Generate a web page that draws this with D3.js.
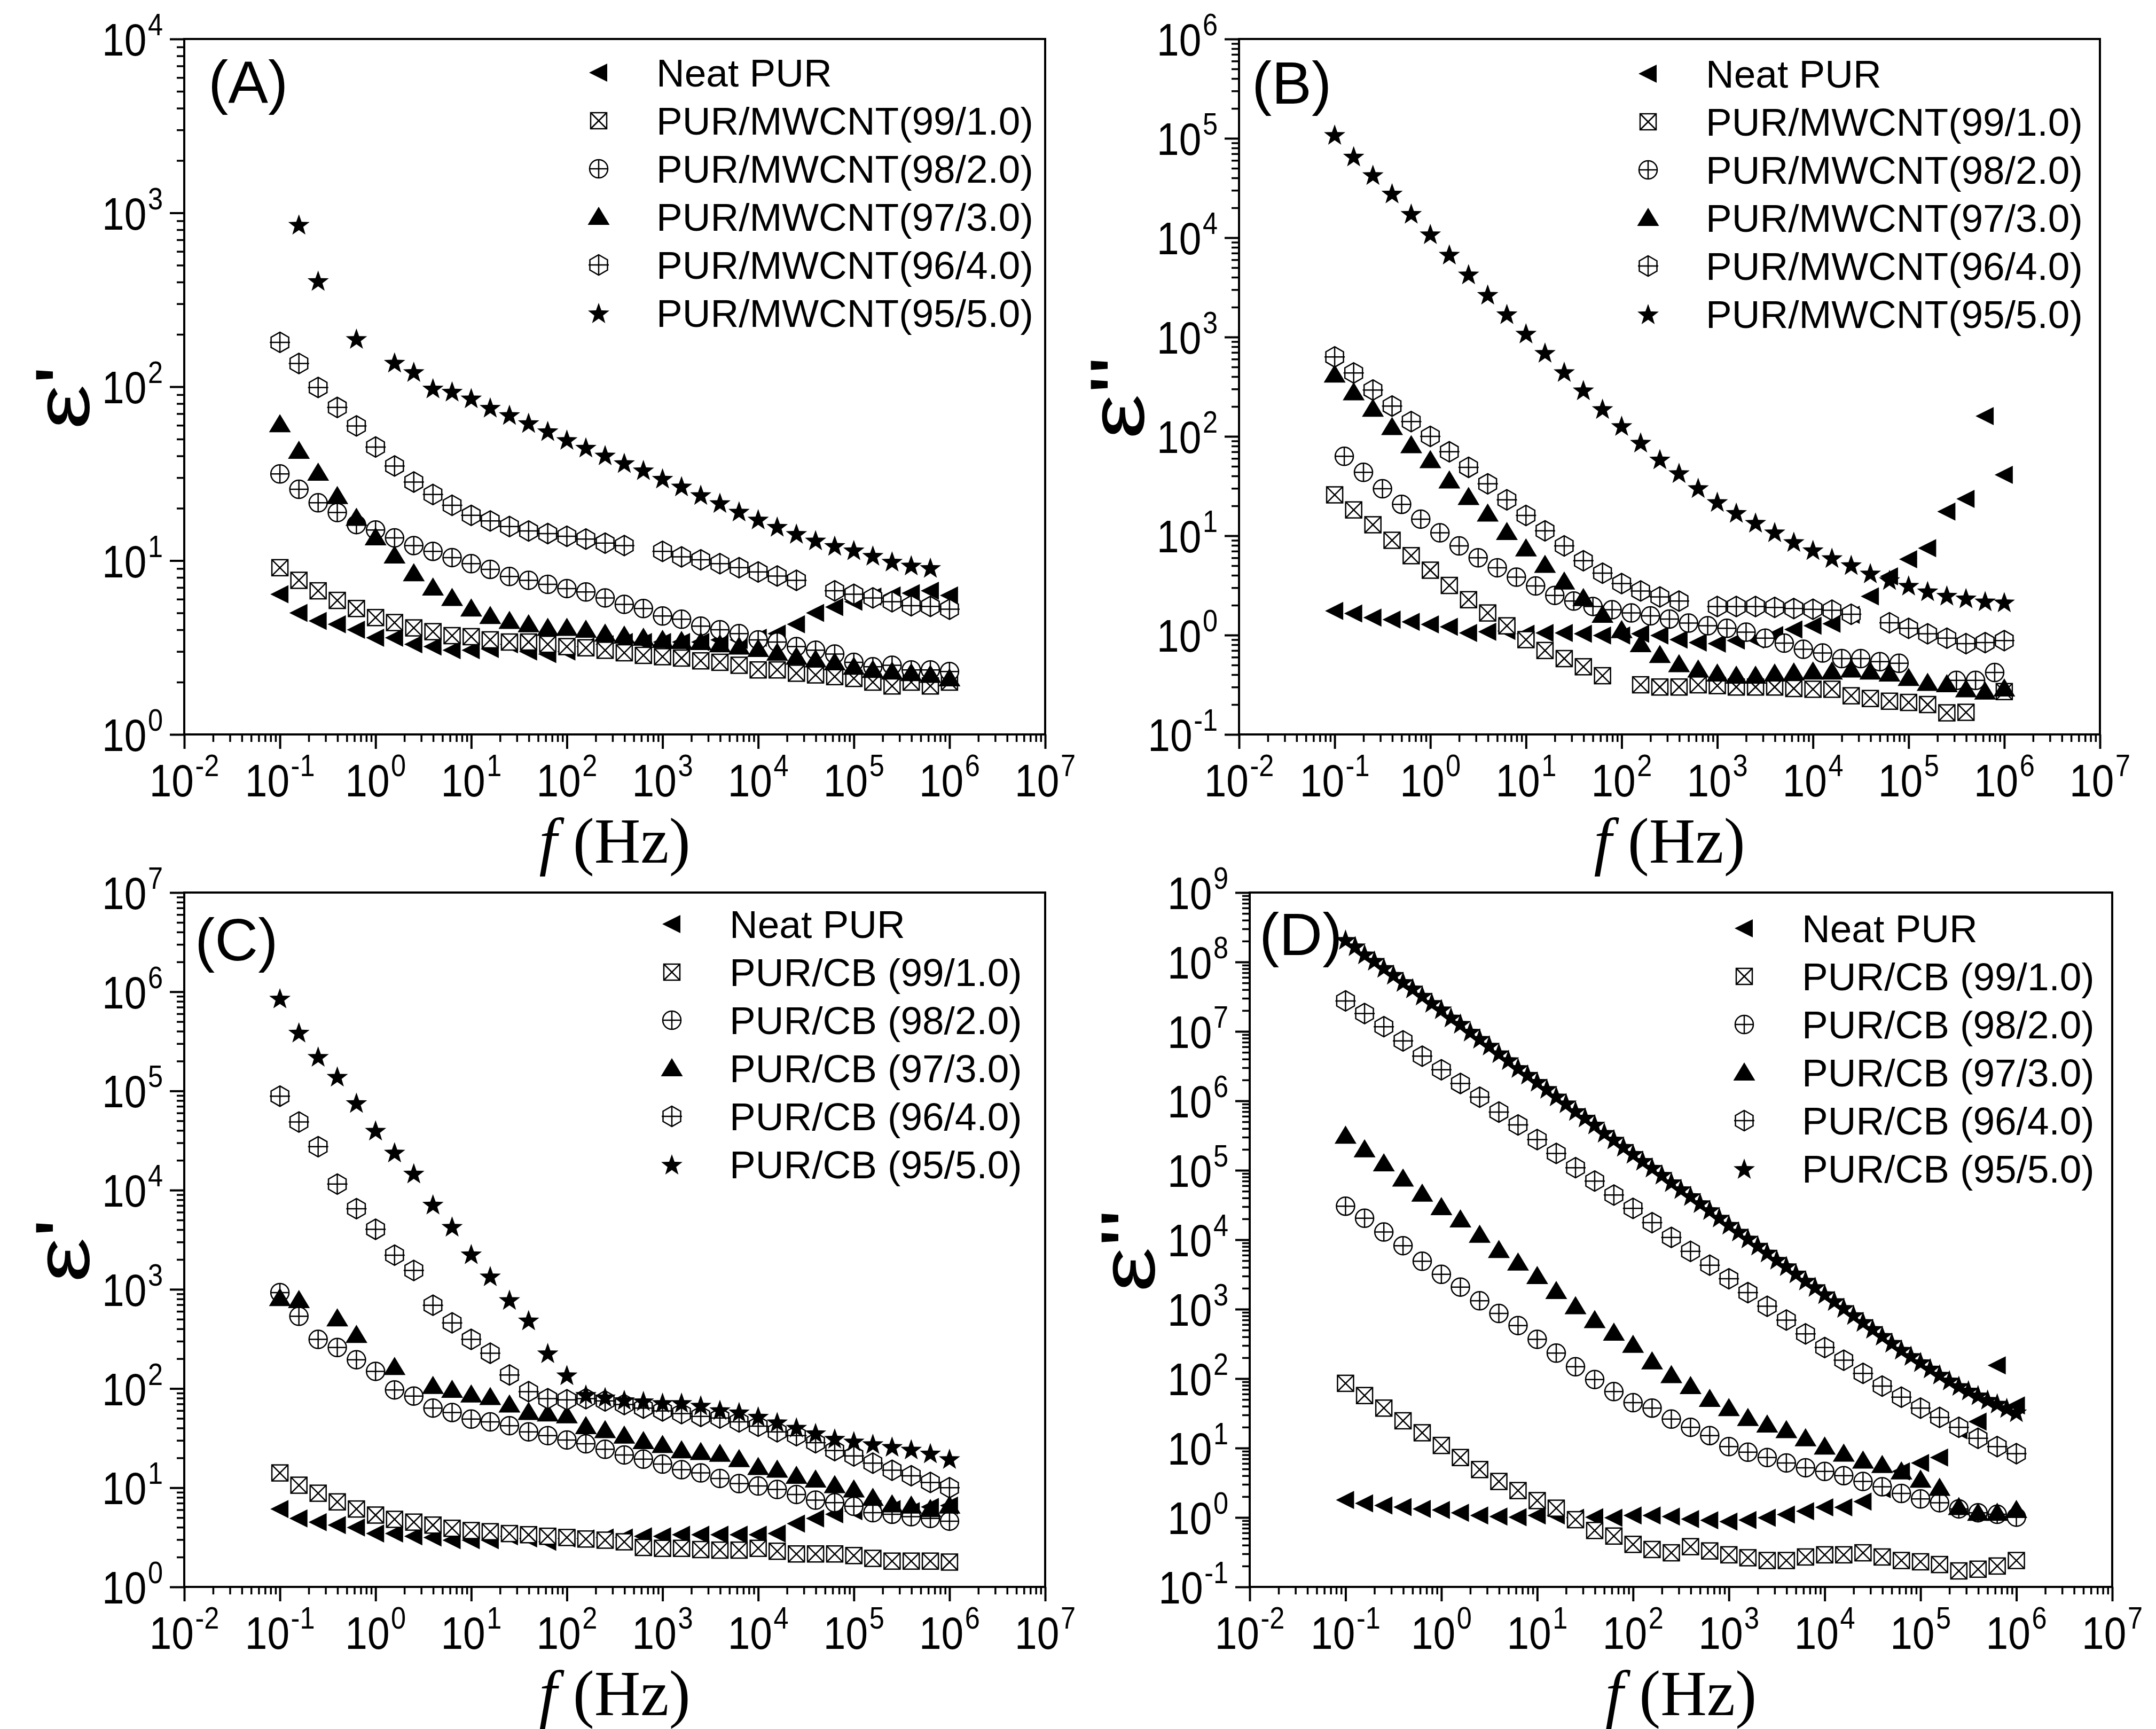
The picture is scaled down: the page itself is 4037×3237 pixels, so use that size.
<!DOCTYPE html>
<html>
<head>
<meta charset="utf-8">
<script src="https://cdn.jsdelivr.net/npm/d3@7.9.0/dist/d3.min.js"></script>
<style>
  html, body { margin: 0; padding: 0; background: #fff; }
  svg { display: block; }
</style>
</head>
<body>
<svg id="chart" width="4037" height="3237"></svg>
<script>
// measurement grid (Hz), 5 points per decade
const freq = [0.1, 0.158, 0.251, 0.398, 0.631, 1, 1.58, 2.51, 3.98, 6.31, 10, 15.8, 25.1, 39.8, 63.1,
  100, 158, 251, 398, 631, 1e3, 1.58e3, 2.51e3, 3.98e3, 6.31e3, 1e4, 1.58e4, 2.51e4, 3.98e4, 6.31e4,
  1e5, 1.58e5, 2.51e5, 3.98e5, 6.31e5, 1e6];
// the 98/2 set in (B) sits half a step to the right
const freqOffset = [0.126, 0.2, 0.316, 0.501, 0.794, 1.26, 2, 3.16, 5.01, 7.94, 12.6, 20, 31.6, 50.1, 79.4,
  126, 200, 316, 501, 794, 1.26e3, 2e3, 3.16e3, 5.01e3, 7.94e3, 1.26e4, 2e4, 3.16e4, 5.01e4, 7.94e4,
  1.26e5, 2e5, 3.16e5, 5.01e5, 7.94e5];
// the 95/5 set in (D) has 10 points per decade
const freqFine = [0.1, 0.126, 0.158, 0.2, 0.251, 0.316, 0.398, 0.501, 0.631, 0.794,
  1, 1.26, 1.58, 2, 2.51, 3.16, 3.98, 5.01, 6.31, 7.94,
  10, 12.6, 15.8, 20, 25.1, 31.6, 39.8, 50.1, 63.1, 79.4,
  100, 126, 158, 200, 251, 316, 398, 501, 631, 794,
  1e3, 1.26e3, 1.58e3, 2e3, 2.51e3, 3.16e3, 3.98e3, 5.01e3, 6.31e3, 7.94e3,
  1e4, 1.26e4, 1.58e4, 2e4, 2.51e4, 3.16e4, 3.98e4, 5.01e4, 6.31e4, 7.94e4,
  1e5, 1.26e5, 1.58e5, 2e5, 2.51e5, 3.16e5, 3.98e5, 5.01e5, 6.31e5, 7.94e5,
  1e6];

const labelsMWCNT = ['Neat PUR', 'PUR/MWCNT(99/1.0)', 'PUR/MWCNT(98/2.0)', 'PUR/MWCNT(97/3.0)',
  'PUR/MWCNT(96/4.0)', 'PUR/MWCNT(95/5.0)'];
const labelsCB = ['Neat PUR', 'PUR/CB (99/1.0)', 'PUR/CB (98/2.0)', 'PUR/CB (97/3.0)',
  'PUR/CB (96/4.0)', 'PUR/CB (95/5.0)'];

// tick label exponents
const xExps = [-2, -1, 0, 1, 2, 3, 4, 5, 6, 7];
const yExpsA = [0, 1, 2, 3, 4];
const yExpsB = [-1, 0, 1, 2, 3, 4, 5, 6];
const yExpsC = [0, 1, 2, 3, 4, 5, 6, 7];
const yExpsD = [-1, 0, 1, 2, 3, 4, 5, 6, 7, 8, 9];

// (A) eps' MWCNT
const aNeat = [6.4, 5.0, 4.5, 4.3, 4.0, 3.6, 3.6, 3.3, 3.2, 3.05, 3.05, 3.1, 3.3, 3.0, 2.9, 3.0, 3.2, 3.3,
  3.4, 3.4, 3.4, 3.4, 3.4, 3.5, 3.5, 3.6, 3.8, 4.3, 5.0, 5.4, 5.8, 6.2, 6.3, 6.5, 6.7, 6.3];
const a99 = [9.1, 7.7, 6.7, 5.9, 5.3, 4.7, 4.4, 4.1, 3.9, 3.7, 3.65, 3.5, 3.4, 3.4, 3.3, 3.2, 3.15, 3.05,
  2.95, 2.85, 2.8, 2.75, 2.65, 2.6, 2.5, 2.35, 2.35, 2.25, 2.2, 2.15, 2.1, 2.0, 1.9, 2.0, 1.9, 2.0];
const a98 = [31.5, 25.7, 21.5, 18.9, 16.1, 15, 13.5, 12.2, 11.3, 10.4, 9.6, 8.9, 8.1, 7.7, 7.3, 6.9, 6.6, 6.1,
  5.6, 5.3, 4.8, 4.6, 4.2, 4.0, 3.8, 3.5, 3.4, 3.2, 3.05, 2.9, 2.6, 2.45, 2.5, 2.35, 2.35, 2.3];
const a97 = [60.8, 42.8, 32, 23.5, 17.6, 13.6, 10.7, 8.45, 7.0, 6.1, 5.3, 4.8, 4.5, 4.3, 4.1, 4.1, 4.0, 3.8,
  3.7, 3.6, 3.5, 3.45, 3.4, 3.3, 3.2, 3.1, 2.95, 2.8, 2.7, 2.6, 2.45, 2.35, 2.3, 2.25, 2.2, 2.1];
const a96 = [180, 136, 99, 76, 59.5, 45, 35, 28.3, 24, 20.8, 18.2, 16.9, 15.7, 14.8, 14.3, 13.8, 13.3, 12.6,
  12.2, null, 11.3, 10.5, 10.1, 9.6, 9.1, 8.6, 8.15, 7.7, null, 6.7, 6.4, 6.1, 5.8, 5.5, 5.45, 5.25];
const a95 = [null, 858, 407, null, 189, null, 138, 122, 98, 94, 86, 76, 69, 62, 55.7, 49.6, 44.8, 40.4,
  36.5, 33.2, 29.7, 26.8, 23.9, 21.5, 19.2, 17.3, 15.7, 14.3, 13.1, 12.2, 11.5, 10.7, 9.9, 9.4, 9.1, null];

// (B) eps'' MWCNT
const bNeat = [1.75, 1.65, 1.5, 1.43, 1.36, 1.28, 1.21, 1.05, 1.08, 1.1, 1.03, 1.05, 1.05, 1.03, 0.99, 0.99,
  1.03, 0.99, 0.9, 0.84, 0.82, 0.88, 0.9, 1.0, 1.14, 1.24, 1.3, 1.6, 2.45, 3.9, 5.8, 7.5, 17.5, 23.5, 160, 41];
const b99 = [25.8, 18.2, 12.9, 9.0, 6.3, 4.5, 3.16, 2.27, 1.67, 1.24, 0.9, 0.7, 0.58, 0.48, 0.39, null, 0.316,
  0.30, 0.30, 0.316, 0.31, 0.30, 0.30, 0.30, 0.29, 0.285, 0.285, 0.245, 0.23, 0.216, 0.21, 0.2, 0.165, 0.167, null, 0.27];
const b98 = [63, 43.5, 29.7, 20.7, 14.7, 10.7, 7.9, 6.0, 4.76, 3.83, 3.12, 2.51, 2.2, 1.94, 1.8, 1.67, 1.56,
  1.45, 1.32, 1.24, 1.17, 1.07, 0.93, 0.83, 0.72, 0.66, 0.58, 0.58, 0.54, 0.52, null, null, 0.35, 0.35, 0.42];
const b97 = [419, 278, 190, 124, 81.5, 57.7, 36, 24.5, 16.7, 10.9, 7.45, 5.1, 3.46, 2.36, 1.6, 1.12, 0.81,
  0.63, 0.51, 0.45, 0.41, 0.39, 0.39, 0.41, 0.42, 0.43, 0.43, 0.45, 0.43, 0.41, 0.37, 0.33, 0.32, 0.285, 0.27, 0.29];
const b96 = [631, 435, 293, 202, 141, 100, 70, 48.8, 33.3, 23, 16, 11.2, 7.9, 5.6, 4.2, 3.3, 2.78, 2.42, 2.2,
  null, 1.94, 1.94, 1.94, 1.9, 1.85, 1.82, 1.78, 1.62, null, 1.33, 1.17, 1.03, 0.93, 0.82, 0.84, 0.88];
const b95 = [1.09e5, 6.6e4, 4.3e4, 2.8e4, 1.75e4, 1.09e4, 6.8e3, 4.3e3, 2.68e3, 1.71e3, 1.09e3, 698, 447,
  293, 190, 128, 87, 59, 43, 30.4, 22, 17.1, 13.6, 10.9, 8.7, 7.2, 6.0, 5.1, 4.2, 3.6, 3.16, 2.78, 2.51, 2.36, 2.2, 2.15];

// (C) eps' CB
const cNeat = [6.1, 4.9, 4.5, 4.2, 3.97, 3.45, 3.45, 3.24, 3.15, 2.96, 2.96, 2.96, 3.24, 3.08, 2.85, 3.08,
  3.08, 3.15, 3.15, 3.24, 3.24, 3.36, 3.36, 3.36, 3.36, 3.36, 3.45, 4.35, 4.9, 5.4, 5.8, 6.1, 6.1, 5.8, 6.4, 6.6];
const c99 = [14.1, 10.6, 8.8, 7.2, 6.1, 5.3, 4.8, 4.5, 4.2, 3.9, 3.7, 3.6, 3.45, 3.36, 3.24, 3.15, 3.04, 2.96,
  2.85, 2.5, 2.45, 2.45, 2.38, 2.35, 2.35, 2.45, 2.29, 2.15, 2.15, 2.15, 2.07, 1.94, 1.82, 1.82, 1.82, 1.78];
const c98 = [927, 535, 313, 259, 195, 149, 96.8, 84, 63.5, 57.3, 49.2, 46.1, 42.2, 36.6, 33.5, 30.3, 27.7,
  24.4, 21.4, 19.4, 17.3, 15.2, 14.1, 12.4, 11.0, 10.4, 9.6, 8.55, 7.5, 7.06, 6.5, 5.6, 5.4, 5.1, 4.9, 4.6];
const c97 = [816, 780, null, 509, 347, null, 165, null, 106, 97, 87, 82, 69, 58, 56, 53.7, 41.7, 38.1, 33.5,
  29.5, 27, 23.8, 22.9, 22, 19.4, 16.2, 15.2, 13.2, 12.1, 10.6, 9.6, 7.9, 6.8, 6.6, 6.1, 6.6];
const c96 = [8.86e4, 4.86e4, 2.74e4, 1.15e4, 6.5e3, 4.03e3, 2.21e3, 1.55e3, 691, 459, 313, 227, 137, 93, 79,
  77, 79, 75, 69, 63.5, 59.5, 55.9, 52.4, 50.4, 46.1, 41.7, 36.6, 33.5, 28.4, 23.7, 20.9, 17.7, 15, 13.2, 11.3, 10];
const c95 = [8.6e5, 3.9e5, 2.22e5, 1.4e5, 7.6e4, 4.0e4, 2.41e4, 1.48e4, 7.2e3, 4.3e3, 2.27e3, 1.36e3, 786,
  490, 228, 137, 87, 82, 77, 75, 72, 72, 67.7, 61, 58, 52.4, 46, 40.6, 35.7, 31.4, 29.5, 27.7, 26, 24.4, 22.3, 19.6];

// (D) eps'' CB
const dNeat = [1.79, 1.6, 1.49, 1.41, 1.33, 1.28, 1.17, 1.07, 1.03, 1.01, 1.07, 1.07, 0.99, 1.01, 0.99, 1.07,
  1.07, 1.03, 0.95, 0.91, 0.87, 0.92, 0.99, 1.1, 1.23, 1.4, 1.4, 1.69, 2.56, 4.6, 6.1, 7.3, 18, 24, 155, 41];
const d99 = [85.5, 57, 37.6, 24.7, 16.6, 10.9, 7.3, 4.9, 3.3, 2.44, 1.75, 1.36, 0.93, 0.65, 0.54, 0.41,
  0.346, 0.31, 0.38, 0.33, 0.29, 0.263, 0.24, 0.24, 0.27, 0.29, 0.29, 0.31, 0.27, 0.24, 0.23, 0.21, 0.17, 0.18, 0.2, 0.24];
const d98 = [3.04e4, 2.04e4, 1.29e4, 8.2e3, 4.9e3, 3.17e3, 2.08e3, 1.32e3, 867, 581, 368, 233, 148, 97, 65,
  45, 37.6, 26.1, 19.9, 15.1, 10.5, 8.7, 7.3, 6.1, 5.2, 4.6, 4.0, 3.3, 2.77, 2.22, 1.85, 1.63, 1.33, 1.17, 1.11, 1.01];
const d97 = [3.15e5, 2.0e5, 1.26e5, 7.6e4, 4.6e4, 2.94e4, 1.96e4, 1.18e4, 7.1e3, 4.7e3, 3.0e3, 1.83e3, 1.1e3,
  697, 458, 307, 177, 112, 78, 51, 37.6, 27.1, 21.8, 18.1, 13.8, 10.5, 8.3, 6.6, 5.7, 4.6, 3.5, 2.67, 1.41, 1.17, 1.17, 1.28];
const d96 = [2.75e7, 1.81e7, 1.17e7, 7.3e6, 4.4e6, 2.8e6, 1.78e6, 1.13e6, 6.9e5, 4.5e5, 2.77e5, 1.75e5, 1.09e5,
  7.0e4, 4.4e4, 2.83e4, 1.76e4, 1.08e4, 6.8e3, 4.3e3, 2.74e3, 1.73e3, 1.1e3, 697, 441, 280, 184, 119, 78, 54,
  37.6, 27.6, 19.9, 13.8, 10.5, 8.3];
const d95 = [2.1e8, 1.7e8, 1.3e8, 1.05e8, 8.3e7, 6.6e7, 5.2e7, 4.2e7, 3.3e7, 2.6e7,
  2.1e7, 1.6e7, 1.3e7, 1.0e7, 7.9e6, 6.3e6, 4.9e6, 3.9e6, 3.0e6, 2.4e6,
  1.9e6, 1.5e6, 1.17e6, 9.3e5, 7.2e5, 5.8e5, 4.6e5, 3.5e5, 2.8e5, 2.2e5,
  1.74e5, 1.38e5, 1.1e5, 8.7e4, 6.8e4, 5.4e4, 4.3e4, 3.4e4, 2.7e4, 2.1e4,
  1.66e4, 1.32e4, 1.05e4, 8.3e3, 6.6e3, 5.2e3, 4.2e3, 3.3e3, 2.6e3, 2.1e3,
  1.66e3, 1.32e3, 1.05e3, 830, 660, 525, 417, 331, 263, 214,
  174, 141, 115, 95, 79, 68, 58, 50, 44, 38,
  33];

const markerTypes = ['triLeft', 'squareX', 'circlePlus', 'triUp', 'hexPlus', 'star'];

const panels = [
  { tag: '(A)', x0: 345, x1: 1957, y0: 73, y1: 1375, yExps: yExpsA, yTitle: "ε'",
    xs: [freq, freq, freq, freq, freq, freq], ys: [aNeat, a99, a98, a97, a96, a95],
    labels: labelsMWCNT, legX: 1229, legY: 136, tagX: 390, tagY: 192 },
  { tag: '(B)', x0: 2320, x1: 3932, y0: 73, y1: 1375, yExps: yExpsB, yTitle: "ε''",
    xs: [freq, freq, freqOffset, freq, freq, freq], ys: [bNeat, b99, b98, b97, b96, b95],
    labels: labelsMWCNT, legX: 3194, legY: 138, tagX: 2344, tagY: 194 },
  { tag: '(C)', x0: 345, x1: 1957, y0: 1671, y1: 2971, yExps: yExpsC, yTitle: "ε'",
    xs: [freq, freq, freq, freq, freq, freq], ys: [cNeat, c99, c98, c97, c96, c95],
    labels: labelsCB, legX: 1366, legY: 1730, tagX: 365, tagY: 1798 },
  { tag: '(D)', x0: 2340, x1: 3955, y0: 1671, y1: 2971, yExps: yExpsD, yTitle: "ε''",
    xs: [freq, freq, freq, freq, freq, freqFine], ys: [dNeat, d99, d98, d97, d96, d95],
    labels: labelsCB, legX: 3374, legY: 1738, tagX: 2358, tagY: 1788 }
];

const svg = d3.select('#chart');
svg.append('rect').attr('width', 4037).attr('height', 3237).attr('fill', '#fff');

const SANS = "'Liberation Sans', Arial, Helvetica, sans-serif";
const SERIF = "'Liberation Serif', 'Times New Roman', serif";

function drawMarker(g, type, cx, cy) {
  const m = g.append('g').attr('transform', `translate(${cx},${cy})`);
  const open = { fill: '#fff', stroke: '#000', 'stroke-width': 2.5 };
  const apply = (s, o) => { Object.entries(o).forEach(([k, v]) => s.attr(k, v)); return s; };
  if (type === 'triLeft') {
    m.append('path').attr('d', 'M-18,0L16,-17L16,17Z').attr('fill', '#000');
  } else if (type === 'triUp') {
    m.append('path').attr('d', 'M0,-19L20.5,15L-20.5,15Z').attr('fill', '#000');
  } else if (type === 'squareX') {
    apply(m.append('rect').attr('x', -15).attr('y', -15).attr('width', 30).attr('height', 30), open);
    m.append('path').attr('d', 'M-15,-15L15,15M15,-15L-15,15').attr('stroke', '#000').attr('stroke-width', 2.5);
  } else if (type === 'circlePlus') {
    apply(m.append('circle').attr('r', 17), open);
    m.append('path').attr('d', 'M-17,0H17M0,-17V17').attr('stroke', '#000').attr('stroke-width', 2.5);
  } else if (type === 'hexPlus') {
    apply(m.append('path').attr('d', 'M0,-19L16.5,-9.5L16.5,9.5L0,19L-16.5,9.5L-16.5,-9.5Z'), open);
    m.append('path').attr('d', 'M-19,0H19M0,-19V19').attr('stroke', '#000').attr('stroke-width', 2.5);
  } else if (type === 'star') {
    const pts = d3.range(10).map(i => {
      const a = -Math.PI / 2 + i * Math.PI / 5;
      const r = i % 2 === 0 ? 21 : 8.5;
      return [r * Math.cos(a), r * Math.sin(a) + 2];
    });
    m.append('path').attr('d', 'M' + pts.join('L') + 'Z').attr('fill', '#000');
  }
}

function powText(sel, exp) {
  sel.append('tspan').text('10');
  sel.append('tspan').attr('dx', 3).attr('dy', -38).attr('font-size', 58).text(String(exp));
}

function minorValues(lo, hi) {
  const out = [];
  for (let e = lo; e < hi; e++) {
    for (let m = 2; m <= 9; m++) out.push(m * Math.pow(10, e));
  }
  return out;
}

panels.forEach(p => {
  const g = svg.append('g');
  const x = d3.scaleLog().domain([1e-2, 1e7]).range([p.x0, p.x1]);
  const yLo = p.yExps[0], yHi = p.yExps[p.yExps.length - 1];
  const y = d3.scaleLog().domain([Math.pow(10, yLo), Math.pow(10, yHi)]).range([p.y1, p.y0]);

  // ticks
  const styleTicks = (sel, w) => {
    sel.select('.domain').remove();
    sel.selectAll('.tick line').attr('stroke', '#000').attr('stroke-width', w);
  };
  const xMajor = xExps.map(e => Math.pow(10, e));
  const yMajor = p.yExps.map(e => Math.pow(10, e));
  g.append('g').attr('transform', `translate(0,${p.y1})`)
    .call(d3.axisBottom(x).tickValues(minorValues(-2, 7)).tickSize(14).tickFormat(''))
    .call(s => styleTicks(s, 3.5));
  g.append('g').attr('transform', `translate(0,${p.y1})`)
    .call(d3.axisBottom(x).tickValues(xMajor).tickSize(27).tickFormat(''))
    .call(s => styleTicks(s, 4));
  g.append('g').attr('transform', `translate(${p.x0},0)`)
    .call(d3.axisLeft(y).tickValues(minorValues(yLo, yHi)).tickSize(14).tickFormat(''))
    .call(s => styleTicks(s, 3.5));
  g.append('g').attr('transform', `translate(${p.x0},0)`)
    .call(d3.axisLeft(y).tickValues(yMajor).tickSize(27).tickFormat(''))
    .call(s => styleTicks(s, 4));

  // frame
  g.append('rect').attr('x', p.x0).attr('y', p.y0)
    .attr('width', p.x1 - p.x0).attr('height', p.y1 - p.y0)
    .attr('fill', 'none').attr('stroke', '#000').attr('stroke-width', 4);

  // tick labels
  xExps.forEach(e => {
    const t = g.append('text')
      .attr('transform', `translate(${x(Math.pow(10, e))},${p.y1 + 116}) scale(0.87,1)`)
      .attr('text-anchor', 'middle').attr('font-family', SANS).attr('font-size', 86);
    powText(t, e);
  });
  p.yExps.forEach(e => {
    const t = g.append('text')
      .attr('transform', `translate(${p.x0 - 40},${y(Math.pow(10, e)) + 31}) scale(0.87,1)`)
      .attr('text-anchor', 'end').attr('font-family', SANS).attr('font-size', 86);
    powText(t, e);
  });

  // axis titles
  const xt = g.append('text')
    .attr('x', (p.x0 + p.x1) / 2).attr('y', p.y1 + 240)
    .attr('text-anchor', 'middle').attr('font-family', SERIF).attr('font-size', 120);
  xt.append('tspan').attr('font-style', 'italic').text('f');
  xt.append('tspan').text(' (Hz)');

  g.append('text')
    .attr('transform', `translate(${p.x0 - 178},${(p.y0 + p.y1) / 2 + 20}) rotate(-90) scale(1.3,1)`)
    .attr('text-anchor', 'middle').attr('font-family', SANS)
    .attr('font-size', 145)
    .text(p.yTitle);

  // panel tag
  g.append('text').attr('x', p.tagX).attr('y', p.tagY)
    .attr('font-family', SANS).attr('font-size', 112).text(p.tag);

  // data
  p.ys.forEach((vals, si) => {
    const sg = g.append('g');
    vals.forEach((v, i) => {
      if (v == null) return;
      drawMarker(sg, markerTypes[si], x(p.xs[si][i]), y(v));
    });
  });

  // legend
  p.labels.forEach((lab, i) => {
    const cy = p.legY + i * 90;
    drawMarker(g, markerTypes[i], p.legX - 108, cy);
    g.append('text').attr('x', p.legX).attr('y', cy + 26)
      .attr('font-family', SANS).attr('font-size', 73).text(lab);
  });
});
</script>
</body>
</html>
